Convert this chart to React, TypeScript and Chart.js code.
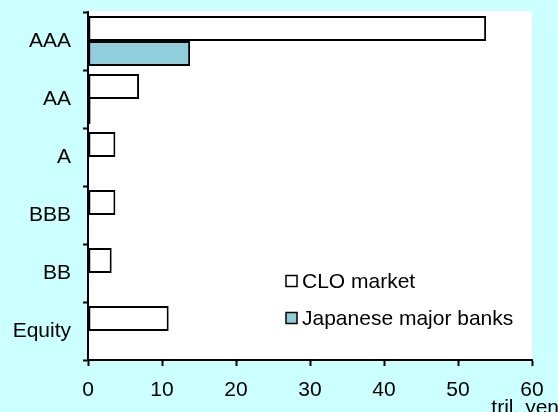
import React, { useEffect, useRef } from "react";
import { Chart, registerables } from "chart.js";

Chart.register(...registerables);

const categories = ["AAA", "AA", "A", "BBB", "BB", "Equity"];
const cloMarket = [53.8, 6.9, 3.7, 3.7, 3.2, 10.9];
const japaneseBanks: (number | null)[] = [13.8, 0.35, null, null, null, null];
const seriesLabels = ["CLO market", "Japanese major banks"];
const xMin = 0;
const xMax = 60;
const xStep = 10;
const unitLabel = "tril. yen";

const FONT = '"Liberation Sans", Arial, sans-serif';
const BG = "#CCFFFF";
const BANK_COLOR = "#92CDDC";

const plotBgPlugin = {
  id: "plotBg",
  beforeDraw(chart: any) {
    const { ctx, chartArea } = chart;
    ctx.save();
    ctx.fillStyle = "#FFFFFF";
    ctx.fillRect(chartArea.left, chartArea.top - 1, chartArea.right - chartArea.left, chartArea.bottom - chartArea.top + 1);
    ctx.restore();
  },
};

const innerLegendPlugin = {
  id: "innerLegend",
  afterDraw(chart: any) {
    const { ctx, chartArea } = chart;
    const x0 = chartArea.left + 198;
    const y0 = chartArea.top + 269;
    const rowGap = 37;
    const box = 11;
    ctx.save();
    ctx.font = `21px ${FONT}`;
    ctx.textBaseline = "middle";
    ctx.textAlign = "left";
    chart.data.datasets.forEach((ds: any, i: number) => {
      const cy = y0 + i * rowGap;
      ctx.fillStyle = ds.backgroundColor;
      ctx.fillRect(x0, cy - box / 2, box, box);
      ctx.lineWidth = 1.5;
      ctx.strokeStyle = "#000";
      ctx.strokeRect(x0, cy - box / 2, box, box);
      ctx.fillStyle = "#000";
      ctx.fillText(ds.label, x0 + box + 5, cy + 1);
    });
    ctx.restore();
  },
};

const unitPlugin = {
  id: "unitLabel",
  afterDraw(chart: any) {
    const { ctx } = chart;
    ctx.save();
    ctx.font = `21px ${FONT}`;
    ctx.fillStyle = "#000";
    ctx.textAlign = "right";
    ctx.textBaseline = "alphabetic";
    ctx.fillText(unitLabel, chart.width + 1, 414);
    ctx.restore();
  },
};

export default function App() {
  const canvasRef = useRef<HTMLCanvasElement | null>(null);

  useEffect(() => {
    document.body.style.margin = "0";
    const canvas = canvasRef.current;
    if (!canvas) return;
    const chart = new Chart(canvas, {
      type: "bar",
      data: {
        labels: categories,
        datasets: [
          {
            label: seriesLabels[0],
            data: cloMarket,
            backgroundColor: "#FFFFFF",
            borderColor: "#000000",
            borderWidth: 2,
            borderSkipped: false,
          },
          {
            label: seriesLabels[1],
            data: japaneseBanks as any,
            backgroundColor: BANK_COLOR,
            borderColor: "#000000",
            borderWidth: 2,
            borderSkipped: false,
          },
        ],
      },
      options: {
        indexAxis: "y",
        responsive: false,
        animation: false,
        devicePixelRatio: 1,
        categoryPercentage: 0.86,
        barPercentage: 1.0,
        layout: { padding: { left: 0, top: 12, right: 26, bottom: 0 } },
        plugins: {
          legend: { display: false },
          tooltip: { enabled: false },
          title: { display: false },
        },
        scales: {
          y: {
            type: "category",
            offset: true,
            grid: {
              display: true,
              offset: true,
              drawOnChartArea: false,
              drawTicks: true,
              tickLength: 5,
              tickColor: "#000",
              tickWidth: 2,
            },
            border: { display: true, color: "#000", width: 2 },
            ticks: {
              color: "#000",
              font: { size: 21, family: FONT },
              padding: 12,
            },
            afterFit(scale: any) {
              scale.width = 88;
              scale.paddingTop = 0;
              scale.paddingBottom = 0;
            },
          },
          x: {
            type: "linear",
            min: xMin,
            max: xMax,
            grid: {
              display: true,
              drawOnChartArea: false,
              drawTicks: true,
              tickLength: 6,
              tickColor: "#000",
              tickWidth: 2,
            },
            border: { display: true, color: "#000", width: 2 },
            ticks: {
              stepSize: xStep,
              color: "#000",
              font: { size: 21, family: FONT },
              padding: 12,
              maxRotation: 0,
            },
            afterFit(scale: any) {
              scale.height = 52;
              scale.paddingLeft = 0;
              scale.paddingRight = 0;
            },
          },
        },
      } as any,
      plugins: [plotBgPlugin, innerLegendPlugin, unitPlugin],
    });
    return () => chart.destroy();
  }, []);

  return (
    <div
      style={{
        position: "fixed",
        left: 0,
        top: 0,
        width: 558,
        height: 412,
        background: BG,
        overflow: "hidden",
      }}
    >
      <canvas ref={canvasRef} width={558} height={412} style={{ display: "block" }} />
    </div>
  );
}
